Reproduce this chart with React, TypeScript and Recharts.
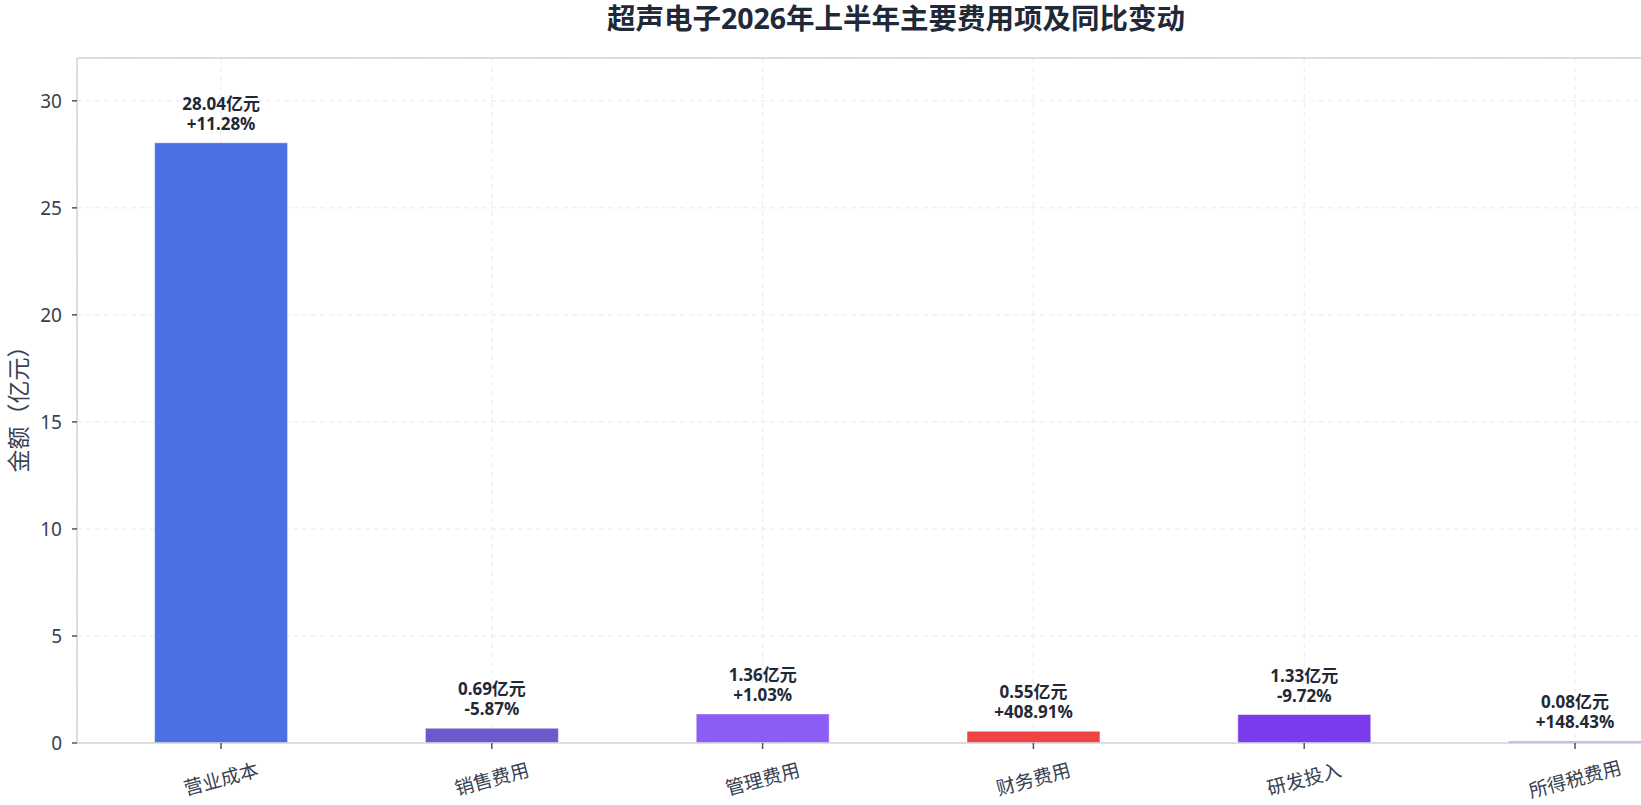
import React from 'react';
import {
  BarChart,
  Bar,
  XAxis,
  YAxis,
  CartesianGrid,
  Cell,
  LabelList,
  ReferenceLine,
} from 'recharts';

// ---- data ----
const categories = ['营业成本', '销售费用', '管理费用', '财务费用', '研发投入', '所得税费用'];
const amounts = [28.04, 0.69, 1.36, 0.55, 1.33, 0.08];
const yoyChanges = ['+11.28%', '-5.87%', '+1.03%', '+408.91%', '-9.72%', '+148.43%'];
const barColors = ['#4a70e1', '#6a5acd', '#8b5cf6', '#ef4444', '#7c3aed', '#a855f7'];
const yTicks = [0, 5, 10, 15, 20, 25, 30];
const yDomain = [0, 32];

const chartTitle = '超声电子2026年上半年主要费用项及同比变动';
const yAxisTitle = '金额（亿元）';

const data = categories.map((name, i) => ({
  name,
  amount: amounts[i],
  label: `${amounts[i].toFixed(2)}亿元|${yoyChanges[i]}`,
}));

const FONT = "'Noto Sans', 'Noto Sans CJK SC', sans-serif";
const TEXT_DARK = '#1f2937';
const TICK_TEXT = '#374151';
const SPINE = '#d1d5db';

const XTick = (props: any) => {
  const { x, y, payload } = props;
  return (
    <g transform={`translate(${x},${y})`}>
      <text
        x={0}
        y={28}
        transform="rotate(-15 0 28)"
        textAnchor="middle"
        dominantBaseline="central"
        fontSize={19}
        fontFamily={FONT}
        fill={TICK_TEXT}
      >
        {payload.value}
      </text>
    </g>
  );
};

const BarLabel = (props: any) => {
  const { x, y, width, value } = props;
  const [line1, line2] = String(value).split('|');
  const cx = Number(x) + Number(width) / 2;
  const top = Number(y);
  return (
    <text
      textAnchor="middle"
      fontSize={17}
      fontWeight={700}
      fontFamily={FONT}
      fill={TEXT_DARK}
    >
      <tspan x={cx} y={top - 33}>
        {line1}
      </tspan>
      <tspan x={cx} y={top - 13}>
        {line2}
      </tspan>
    </text>
  );
};

const YLabel = (props: any) => {
  const vb = props.viewBox || { x: 0, y: 58, width: 77, height: 685 };
  const lx = vb.x + 18;
  const ly = vb.y + vb.height / 2 + 3;
  return (
    <text
      x={lx}
      y={ly}
      transform={`rotate(-90 ${lx} ${ly})`}
      textAnchor="middle"
      dominantBaseline="central"
      fontSize={23}
      fontFamily={FONT}
      fill={TICK_TEXT}
    >
      {yAxisTitle}
    </text>
  );
};

export default function App() {
  return (
    <div
      style={{
        position: 'relative',
        width: 1641,
        height: 805,
        overflow: 'hidden',
        background: '#ffffff',
      }}
    >
      <style>{`html,body{margin:0;padding:0;overflow:hidden;background:#fff;}`}</style>
      <div
        style={{
          position: 'absolute',
          left: 0,
          top: 0,
          width: 1792,
          height: 36,
          lineHeight: '36px',
          textAlign: 'center',
          fontFamily: FONT,
          fontSize: 28.5,
          fontWeight: 700,
          color: TEXT_DARK,
          zIndex: 2,
        }}
      >
        {chartTitle}
      </div>
      <div style={{ position: 'absolute', left: 0, top: 0 }}>
        <BarChart
          width={1796}
          height={805}
          data={data}
          margin={{ top: 58, right: 77, bottom: 2, left: 0 }}
        >
          <CartesianGrid strokeDasharray="5 4" stroke="#e9ebef" strokeWidth={1} />
          <XAxis
            dataKey="name"
            type="category"
            padding={{ left: 8.6, right: 8.6 }}
            height={60}
            tick={<XTick />}
            tickSize={6}
            tickMargin={2}
            tickLine={{ stroke: '#4b5563', strokeWidth: 1.5 }}
            axisLine={{ stroke: SPINE, strokeWidth: 1.5 }}
            interval={0}
          />
          <YAxis
            type="number"
            domain={yDomain}
            ticks={yTicks}
            width={77}
            tickSize={5}
            tickMargin={10}
            tick={{ fontSize: 19, fill: TICK_TEXT, fontFamily: FONT }}
            tickLine={{ stroke: '#4b5563', strokeWidth: 1.5 }}
            axisLine={{ stroke: SPINE, strokeWidth: 1.5 }}
            allowDataOverflow
            label={<YLabel />}
          />
          <ReferenceLine y={32} stroke={SPINE} strokeWidth={1.5} />
          <Bar
            dataKey="amount"
            barSize={133}
            isAnimationActive={false}
            stroke="#ffffff"
            strokeOpacity={0.5}
            strokeWidth={1}
          >
            {data.map((d, i) => (
              <Cell key={d.name} fill={barColors[i]} />
            ))}
            <LabelList dataKey="label" content={<BarLabel />} />
          </Bar>
        </BarChart>
      </div>
    </div>
  );
}
